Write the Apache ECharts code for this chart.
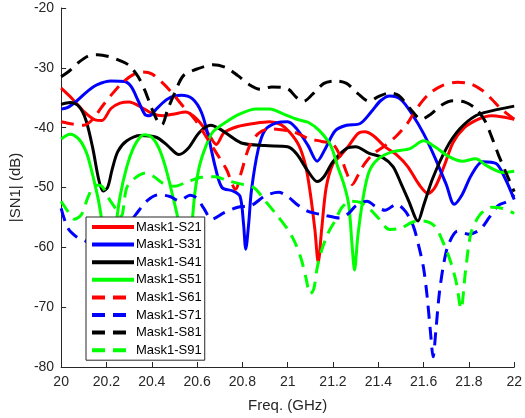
<!DOCTYPE html>
<html>
<head>
<meta charset="utf-8">
<script src="https://cdn.jsdelivr.net/npm/echarts@6/dist/echarts.min.js"></script>
<style>html,body{margin:0;padding:0;background:#fff}#c{width:525px;height:418px}</style>
</head>
<body>
<div id="c"></div>
<script>
const seriesNames = ['Mask1-S21','Mask1-S31','Mask1-S41','Mask1-S51','Mask1-S61','Mask1-S71','Mask1-S81','Mask1-S91'];
const xTickLabels = ['20','20.2','20.4','20.6','20.8','21','21.2','21.4','21.6','21.8','22'];
const yTickLabels = ['-80','-70','-60','-50','-40','-30','-20'];

const s21 = [[20.00,-33.4],[20.05,-35.2],[20.10,-37.3],[20.15,-38.7],[20.18,-38.8],[20.22,-36.8],[20.26,-35.9],[20.30,-35.7],[20.35,-36.5],[20.40,-37.6],[20.45,-38.0],[20.50,-37.7],[20.55,-37.4],[20.60,-38.6],[20.65,-41.0],[20.685,-42.8],[20.72,-40.8],[20.78,-39.8],[20.85,-39.3],[20.92,-39.0],[20.97,-39.5],[21.01,-40.8],[21.05,-43.0],[21.08,-46.5],[21.10,-51],[21.12,-57],[21.135,-62.5],[21.15,-57],[21.17,-50],[21.20,-46],[21.23,-44.8],[21.27,-43.0],[21.31,-41.0],[21.34,-40.7],[21.38,-41.4],[21.43,-43.2],[21.48,-44.5],[21.53,-46.5],[21.58,-49.5],[21.62,-51],[21.65,-50],[21.69,-46.5],[21.73,-42.5],[21.78,-40.0],[21.84,-38.6],[21.90,-38.0],[21.95,-38.2],[22.00,-38.6]];
const s31 = [[20.00,-36.9],[20.03,-36.6],[20.07,-35.5],[20.12,-33.8],[20.16,-32.8],[20.22,-32.2],[20.28,-32.3],[20.31,-33.2],[20.34,-35.5],[20.37,-37.8],[20.39,-38.0],[20.42,-36.9],[20.47,-35.2],[20.53,-34.6],[20.58,-35.2],[20.62,-37.5],[20.65,-41.5],[20.68,-46.5],[20.71,-50.0],[20.76,-50.6],[20.79,-51.5],[20.805,-56],[20.815,-60.3],[20.828,-56],[20.84,-50.5],[20.87,-43.6],[20.90,-40.4],[20.95,-39.2],[21.00,-39.0],[21.04,-40.2],[21.09,-43.0],[21.13,-45.6],[21.165,-43.6],[21.21,-40.5],[21.26,-39.6],[21.32,-39.3],[21.37,-37.3],[21.41,-35.5],[21.45,-34.7],[21.50,-35.3],[21.55,-37.8],[21.60,-41.0],[21.65,-45.0],[21.70,-49.5],[21.735,-52.8],[21.77,-51.2],[21.81,-48.0],[21.86,-45.7],[21.92,-46.0],[21.96,-48.5],[22.00,-52.0]];
const s41 = [[20.00,-36.1],[20.04,-35.8],[20.08,-36.5],[20.11,-38.8],[20.14,-43.5],[20.165,-48.5],[20.185,-50.6],[20.205,-50.0],[20.225,-47.0],[20.25,-44.0],[20.29,-42.2],[20.35,-41.3],[20.42,-41.6],[20.47,-43.0],[20.52,-44.5],[20.56,-43.5],[20.61,-40.8],[20.66,-39.6],[20.70,-40.2],[20.75,-41.5],[20.80,-42.6],[20.90,-43.0],[21.00,-43.2],[21.04,-44.4],[21.09,-47.3],[21.13,-49.0],[21.16,-48.2],[21.20,-45.7],[21.26,-43.5],[21.30,-43.2],[21.36,-44.3],[21.42,-45.0],[21.465,-46.5],[21.50,-49.3],[21.535,-52.3],[21.575,-55.6],[21.60,-53],[21.64,-48.5],[21.70,-43.5],[21.76,-40.2],[21.83,-38.0],[21.90,-37.2],[22.00,-36.4]];
const s51 = [[20.00,-41.9],[20.04,-41.1],[20.08,-42.0],[20.11,-44.0],[20.13,-46.5],[20.165,-52.2],[20.19,-58],[20.21,-62],[20.235,-58],[20.26,-51.5],[20.29,-46.5],[20.32,-43.3],[20.35,-41.5],[20.37,-41.2],[20.40,-41.6],[20.43,-43.3],[20.46,-46.5],[20.49,-51],[20.52,-56],[20.55,-63],[20.575,-57],[20.59,-51],[20.61,-46.5],[20.64,-43],[20.67,-40.7],[20.73,-39.0],[20.79,-37.7],[20.86,-36.9],[20.92,-36.9],[20.98,-37.7],[21.04,-38.6],[21.09,-39.1],[21.14,-40.5],[21.19,-43.0],[21.22,-46.4],[21.25,-49.7],[21.27,-53],[21.285,-60],[21.295,-63.8],[21.31,-58],[21.335,-51.3],[21.36,-47.3],[21.40,-45.2],[21.465,-44.0],[21.54,-43.5],[21.60,-42.2],[21.65,-43.2],[21.71,-44.8],[21.77,-45.6],[21.83,-45.2],[21.88,-46.4],[21.95,-47.5],[22.00,-47.3]];
const s61 = [[20.00,-39.0],[20.05,-39.4],[20.10,-39.6],[20.14,-38.6],[20.18,-36.5],[20.22,-34.6],[20.27,-32.5],[20.32,-31.1],[20.36,-30.7],[20.40,-31.0],[20.45,-32.6],[20.49,-34.2],[20.54,-36.5],[20.59,-38.6],[20.64,-41.5],[20.69,-44.5],[20.73,-47.0],[20.77,-50.3],[20.795,-47.5],[20.83,-43.2],[20.87,-41.0],[20.92,-40.2],[20.98,-40.4],[21.04,-40.9],[21.09,-41.8],[21.15,-42.3],[21.20,-42.8],[21.235,-45],[21.26,-47.5],[21.285,-49.5],[21.31,-48],[21.34,-46],[21.38,-44.3],[21.43,-43.0],[21.48,-41.4],[21.53,-39.2],[21.57,-36.8],[21.62,-34.5],[21.68,-33.0],[21.75,-32.4],[21.81,-32.7],[21.86,-33.8],[21.90,-35.2],[21.94,-36.8],[22.00,-38.6]];
const s71 = [[20.00,-53.5],[20.03,-56.8],[20.07,-58.3],[20.11,-59.0],[20.16,-60.0],[20.22,-59.5],[20.28,-57.0],[20.33,-54.5],[20.38,-52.2],[20.43,-51.2],[20.48,-51.5],[20.52,-52.2],[20.57,-51.3],[20.60,-51.8],[20.63,-53.5],[20.665,-55.3],[20.72,-54.2],[20.78,-53.3],[20.84,-53.0],[20.90,-51.4],[20.96,-50.8],[21.00,-51.5],[21.04,-52.8],[21.09,-54.0],[21.16,-54.6],[21.23,-55.1],[21.27,-54.3],[21.30,-53.1],[21.35,-52.3],[21.39,-53.2],[21.43,-53.8],[21.48,-52.8],[21.52,-54.0],[21.555,-56.5],[21.58,-60.0],[21.60,-63.5],[21.615,-68],[21.63,-74],[21.642,-78.3],[21.655,-73.5],[21.67,-67.5],[21.69,-62.5],[21.71,-59.5],[21.75,-57.3],[21.80,-57.8],[21.85,-57.0],[21.89,-55.0],[21.93,-53.0],[21.97,-52.3],[22.00,-51.2]];
const s81 = [[20.00,-31.5],[20.04,-30.4],[20.08,-29.0],[20.12,-28.0],[20.16,-27.8],[20.21,-28.1],[20.26,-28.8],[20.30,-29.6],[20.34,-31.5],[20.37,-33.8],[20.40,-36.8],[20.43,-39.2],[20.445,-39.5],[20.47,-37.0],[20.50,-34.3],[20.54,-31.3],[20.60,-30.2],[20.67,-29.5],[20.73,-30.0],[20.78,-31.3],[20.83,-32.8],[20.88,-33.6],[20.93,-33.2],[21.00,-33.5],[21.04,-35.0],[21.07,-35.6],[21.11,-34.4],[21.16,-32.6],[21.21,-32.2],[21.26,-32.6],[21.31,-34.3],[21.36,-35.6],[21.40,-34.8],[21.45,-34.2],[21.49,-34.6],[21.54,-36.8],[21.59,-38.6],[21.63,-37.8],[21.68,-36.2],[21.73,-35.5],[21.78,-35.7],[21.83,-36.8],[21.87,-38.8],[21.90,-41.5],[21.93,-44.5],[21.96,-47.2],[22.00,-50.7]];
const s91 = [[20.00,-52.3],[20.03,-54.0],[20.06,-55.3],[20.09,-54.5],[20.12,-51.5],[20.15,-49.6],[20.18,-49.8],[20.21,-51.8],[20.24,-53.5],[20.265,-54.8],[20.29,-50.0],[20.33,-48.3],[20.37,-47.6],[20.41,-48.2],[20.45,-49.3],[20.50,-49.8],[20.56,-49.0],[20.62,-48.3],[20.68,-48.2],[20.73,-48.8],[20.79,-49.4],[20.85,-50.0],[20.90,-52.2],[20.95,-54.5],[21.00,-57.0],[21.03,-59.0],[21.06,-62.0],[21.08,-65.0],[21.10,-67.8],[21.115,-67.0],[21.13,-63.5],[21.15,-60.5],[21.18,-57.5],[21.21,-55.5],[21.24,-53.3],[21.28,-52.3],[21.32,-52.5],[21.36,-53.5],[21.40,-55.1],[21.45,-57.0],[21.50,-56.8],[21.55,-55.8],[21.60,-55.6],[21.65,-56.5],[21.69,-59.5],[21.72,-62.5],[21.745,-66],[21.765,-70.3],[21.785,-64],[21.81,-57.5],[21.85,-54.5],[21.90,-53.3],[21.95,-53.5],[22.00,-54.3]];

const seriesData = [s21, s31, s41, s51, s61, s71, s81, s91];
const colors = ['#ff0000','#0000ff','#000000','#00ff00','#ff0000','#0000ff','#000000','#00ff00'];
const dashed = [false,false,false,false,true,true,true,true];

const FONT = '"Liberation Sans", Arial, Helvetica, sans-serif';
const AX = '#262626';
const chart = echarts.init(document.getElementById('c'), null, {renderer: 'canvas'});

const series = seriesData.map((d, i) => ({
  name: seriesNames[i],
  type: 'line',
  data: d,
  showSymbol: false,
  symbol: 'none',
  smooth: 0.3,
  animation: false,
  lineStyle: {color: colors[i], width: 3, type: dashed[i] ? [13, 8] : 'solid', cap: 'butt'},
  itemStyle: {color: colors[i]},
  clip: true
}));

function fmtX(v) {
  const idx = Math.round((v - 20) / 0.2);
  return xTickLabels[idx] !== undefined ? xTickLabels[idx] : '';
}
function fmtY(v) {
  const idx = Math.round((v + 80) / 10);
  return yTickLabels[idx] !== undefined ? yTickLabels[idx] : '';
}

chart.setOption({
  backgroundColor: '#fff',
  animation: false,
  grid: {left: 57, right: 8, top: 8, bottom: 48, containLabel: false},
  xAxis: {
    type: 'value', min: 20, max: 22, interval: 0.2,
    name: 'Freq. (GHz)', nameLocation: 'middle', nameGap: 31,
    nameTextStyle: {fontFamily: FONT, fontSize: 15, color: AX},
    axisLine: {show: true, onZero: false, lineStyle: {color: AX, width: 1}},
    axisTick: {show: true, inside: true, length: 5, lineStyle: {color: AX}},
    axisLabel: {fontFamily: FONT, fontSize: 14, color: AX, margin: 8, formatter: fmtX},
    splitLine: {show: false}
  },
  yAxis: {
    type: 'value', min: -80, max: -20, interval: 10,
    name: '|SN1| (dB)', nameLocation: 'middle', nameGap: 37, nameRotate: 90,
    nameTextStyle: {fontFamily: FONT, fontSize: 15, color: AX},
    axisLine: {show: true, onZero: false, lineStyle: {color: AX, width: 1}},
    axisTick: {show: true, inside: true, length: 5, lineStyle: {color: AX}},
    axisLabel: {fontFamily: FONT, fontSize: 14, color: AX, margin: 7, formatter: fmtY},
    splitLine: {show: false}
  },
  legend: {
    orient: 'vertical', left: 86, top: 217, z: 10,
    backgroundColor: '#ffffff', borderColor: AX, borderWidth: 1, borderRadius: 0,
    padding: [3, 3, 3, 4],
    itemWidth: 42, itemHeight: 14, itemGap: 3.6,
    itemStyle: {color: 'rgba(0,0,0,0)', borderColor: 'rgba(0,0,0,0)', borderWidth: 0, opacity: 0},
    lineStyle: {width: 4},
    textStyle: {fontFamily: FONT, fontSize: 13, color: '#000', lineHeight: 14, padding: [0, 0, 0, -3]},
    selectedMode: false,
    data: seriesNames
  },
  series: series
});
</script>
</body>
</html>
